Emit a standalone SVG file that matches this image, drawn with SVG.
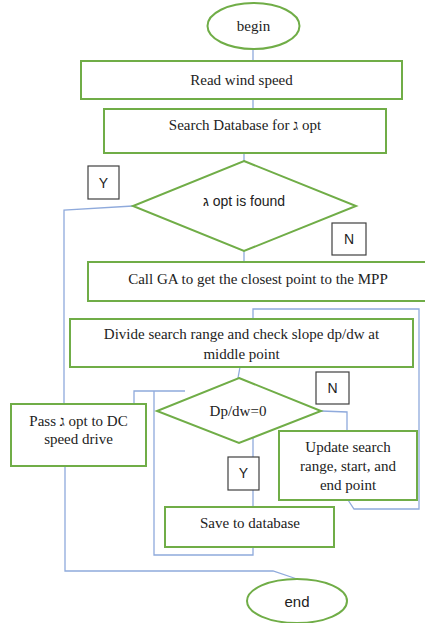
<svg xmlns="http://www.w3.org/2000/svg" width="425" height="623" viewBox="0 0 425 623">
<style>
.n{fill:#fff;stroke:#70ad47;stroke-width:2}
.lb{fill:#fff;stroke:#404040;stroke-width:1.2}
.c{fill:none;stroke:#8faadc;stroke-width:1.3}
.t{font-family:"Liberation Serif","DejaVu Serif",serif;font-size:15px;fill:#222;text-anchor:middle}
.s{font-family:"Liberation Sans","DejaVu Sans",sans-serif;font-size:14px;fill:#222;text-anchor:middle}
</style>
<rect width="425" height="623" fill="#fff"/>
<g id="connectors">
<line class="c" x1="253" y1="49" x2="253" y2="61"/>
<line class="c" x1="253" y1="99" x2="253" y2="109"/>
<line class="c" x1="244" y1="153" x2="244" y2="161"/>
<polyline class="c" points="133,206 64,210 64,404"/>
<line class="c" x1="244" y1="251" x2="244" y2="262"/>
<polyline class="c" points="253,319 253,309 419,309 419,509 354,509 348,500"/>
<line class="c" x1="240" y1="367" x2="238" y2="378"/>
<polyline class="c" points="321,411 347,412 347,431"/>
<line class="c" x1="253" y1="436" x2="253" y2="507"/>
<polyline class="c" points="253,547 253,555 154,555 154,391"/>
<polyline class="c" points="185,391 134,391 134,404"/>
<polyline class="c" points="65,466 65,571 273,571 297,579"/>
</g>
<g id="begin"><ellipse class="n" cx="253.5" cy="26" rx="46" ry="23"/><text class="t" x="253.5" y="31">begin</text></g>
<g id="read"><rect class="n" x="81" y="61" width="321" height="38"/><text class="t" x="241.5" y="85">Read wind speed</text></g>
<g id="search"><rect class="n" x="104" y="109" width="282" height="44"/><text class="t" x="245" y="130">Search Database for ג opt</text></g>
<g id="found"><polygon class="n" points="244,161 356,206 244,251 133,206"/><text class="s" x="244" y="206">ג opt is found</text></g>
<g id="labelY1"><rect class="lb" x="88" y="166" width="31" height="33"/><text class="s" x="103.5" y="188">Y</text></g>
<g id="labelN1"><rect class="lb" x="332" y="223" width="34" height="32"/><text class="s" x="349" y="244">N</text></g>
<g id="callga"><rect class="n" x="88" y="262" width="342" height="39"/><text class="t" x="258" y="284">Call GA to get the closest point to the MPP</text></g>
<g id="divide"><rect class="n" x="70" y="319" width="343" height="48"/><text class="t" x="241.5" y="339">Divide search range and check slope dp/dw at</text><text class="t" x="241.5" y="359">middle point</text></g>
<g id="dpdw"><polygon class="n" points="239,378 321,411 239,443 157,411"/><text class="t" x="238" y="416">Dp/dw=0</text></g>
<g id="labelN2"><rect class="lb" x="316" y="372" width="33" height="32"/><text class="s" x="332.5" y="393">N</text></g>
<g id="pass"><rect class="n" x="11" y="404" width="135" height="62"/><text class="t" x="78.5" y="426">Pass ג opt to DC</text><text class="t" x="78.5" y="444">speed drive</text></g>
<g id="update"><rect class="n" x="279" y="431" width="138" height="69"/><text class="t" x="348" y="452">Update search</text><text class="t" x="348" y="471">range, start, and</text><text class="t" x="348" y="490">end point</text></g>
<g id="labelY2"><rect class="lb" x="228" y="457" width="31" height="33"/><text class="s" x="243.5" y="478">Y</text></g>
<g id="save"><rect class="n" x="165" y="507" width="169" height="40"/><text class="t" x="250" y="528">Save to database</text></g>
<g id="end"><ellipse class="n" cx="297" cy="601" rx="50" ry="22"/><text class="s" x="297" y="607" style="font-size:15px">end</text></g>
</svg>
